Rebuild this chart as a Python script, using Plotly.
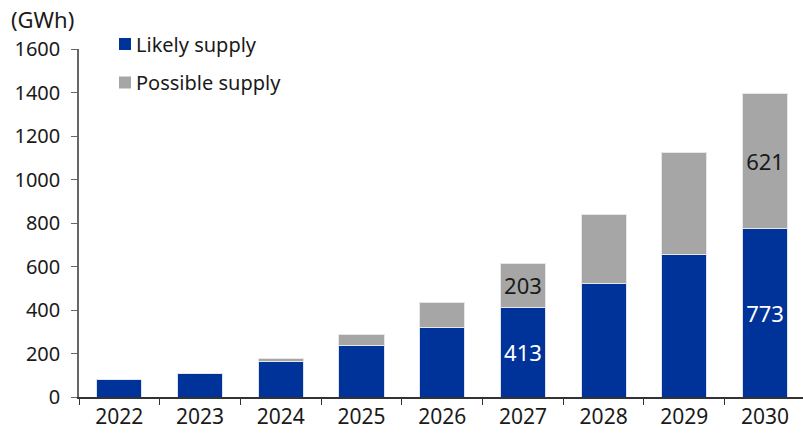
import plotly.graph_objects as go

years = ["2022", "2023", "2024", "2025", "2026", "2027", "2028", "2029", "2030"]
likely = [81, 110, 161, 236, 321, 413, 523, 653, 773]
possible = [0, 0, 18, 50, 115, 203, 314, 470, 621]
likely_labels = ["", "", "", "", "", "413", "", "", "773"]
possible_labels = ["", "", "", "", "", "203", "", "", "621"]
y_ticks = [0, 200, 400, 600, 800, 1000, 1200, 1400, 1600]
legend_names = ["Likely supply", "Possible supply"]

FONT = "Noto Sans"
BLUE = "#003399"
GREY = "#a6a6a6"

# plot area in pixels
L, R, T, B = 79, 803, 49, 397


def px(x):
    return (x - L) / (R - L)


def py(y):
    return (B - y) / (B - T)


fig = go.Figure()

fig.add_trace(go.Bar(
    x=years, y=likely, name=legend_names[0],
    marker=dict(color=BLUE, line=dict(color="#dde3ee", width=1)),
    text=likely_labels, textposition="inside", insidetextanchor="middle",
    textangle=0, textfont=dict(color="white", size=22, family=FONT),
    constraintext="none",
))
fig.add_trace(go.Bar(
    x=years, y=possible, name=legend_names[1],
    marker=dict(color=GREY, line=dict(color="#e6e6e6", width=1)),
    text=possible_labels, textposition="inside", insidetextanchor="middle",
    textangle=0, textfont=dict(color="#1a1a1a", size=22, family=FONT),
    constraintext="none",
))

# hand-made legend so the swatch sits tight against the text
shapes = []
annotations = []
for name, color, cy in zip(legend_names, [BLUE, GREY], [44, 82.5]):
    shapes.append(dict(
        type="rect", xref="paper", yref="paper",
        x0=px(119), x1=px(131), y0=py(cy + 6), y1=py(cy - 6),
        fillcolor=color, line=dict(width=0),
    ))
    annotations.append(dict(
        text=name, xref="paper", yref="paper", x=px(134), y=py(cy),
        xanchor="left", yanchor="middle", showarrow=False,
        font=dict(size=20),
    ))

annotations.append(dict(
    text="(GWh)", xref="paper", yref="paper",
    x=px(9), y=py(19), xanchor="left", yanchor="middle",
    showarrow=False, font=dict(size=22),
))

fig.update_layout(
    width=803, height=434,
    barmode="stack", bargap=0.44,
    margin=dict(l=L, r=803 - R, t=T, b=434 - B),
    plot_bgcolor="white", paper_bgcolor="white",
    font=dict(family=FONT, size=20, color="#1a1a1a"),
    showlegend=False,
    shapes=shapes,
    annotations=annotations,
)

# the original axis runs a few pixels past the right edge
fig.update_xaxes(
    range=[-0.5, 8.47],
    showline=True, linecolor="#333333", linewidth=1.5,
    ticks="outside", tickson="boundaries", ticklen=6, tickcolor="#333333",
    tickfont=dict(size=21), showgrid=False,
)
fig.update_yaxes(
    range=[0, 1600], tickvals=y_ticks,
    showline=True, linecolor="#666666", linewidth=1.5,
    ticks="outside", ticklen=6, tickcolor="#666666",
    tickfont=dict(size=20), showgrid=False, zeroline=False,
    ticklabelstandoff=7,
)

fig.write_html(
    "out.html",
    config={"displayModeBar": False},
    post_script="document.body.style.margin='0';",
)
